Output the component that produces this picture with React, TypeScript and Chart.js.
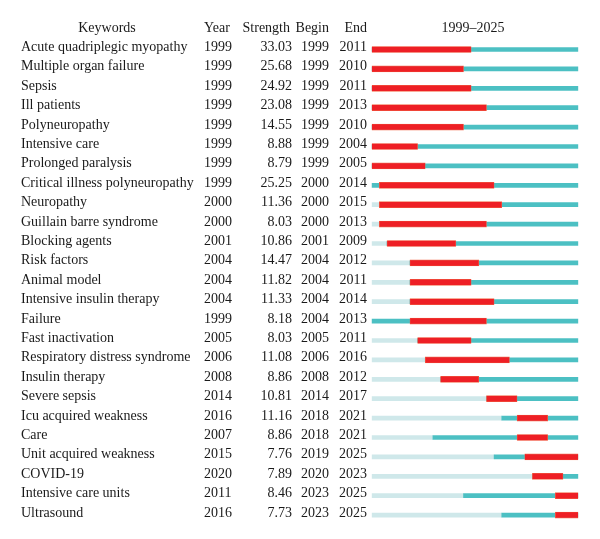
import React, { useEffect, useRef } from "react";
import { Chart, registerables } from "chart.js";

Chart.register(...registerables);

const keywords = [
  "Acute quadriplegic myopathy",
  "Multiple organ failure",
  "Sepsis",
  "Ill patients",
  "Polyneuropathy",
  "Intensive care",
  "Prolonged paralysis",
  "Critical illness polyneuropathy",
  "Neuropathy",
  "Guillain barre syndrome",
  "Blocking agents",
  "Risk factors",
  "Animal model",
  "Intensive insulin therapy",
  "Failure",
  "Fast inactivation",
  "Respiratory distress syndrome",
  "Insulin therapy",
  "Severe sepsis",
  "Icu acquired weakness",
  "Care",
  "Unit acquired weakness",
  "COVID-19",
  "Intensive care units",
  "Ultrasound",
];
const years = [1999, 1999, 1999, 1999, 1999, 1999, 1999, 1999, 2000, 2000, 2001, 2004, 2004, 2004, 1999, 2005, 2006, 2008, 2014, 2016, 2007, 2015, 2020, 2011, 2016];
const strengths = [33.03, 25.68, 24.92, 23.08, 14.55, 8.88, 8.79, 25.25, 11.36, 8.03, 10.86, 14.47, 11.82, 11.33, 8.18, 8.03, 11.08, 8.86, 10.81, 11.16, 8.86, 7.76, 7.89, 8.46, 7.73];
const begins = [1999, 1999, 1999, 1999, 1999, 1999, 1999, 2000, 2000, 2000, 2001, 2004, 2004, 2004, 2004, 2005, 2006, 2008, 2014, 2018, 2018, 2019, 2020, 2023, 2023];
const ends = [2011, 2010, 2011, 2013, 2010, 2004, 2005, 2014, 2015, 2013, 2009, 2012, 2011, 2014, 2013, 2011, 2016, 2012, 2017, 2021, 2021, 2025, 2023, 2025, 2025];
const startYear = 1999;
const endYear = 2025;

const FONT = '14px "Liberation Serif", "DejaVu Serif", serif';

const textPlugin = {
  id: "burstText",
  afterDraw(chart: any) {
    const ctx = chart.ctx as CanvasRenderingContext2D;
    const ys = chart.scales.y;
    ctx.save();
    ctx.font = FONT;
    ctx.fillStyle = "#1a1a1a";
    ctx.textBaseline = "alphabetic";
    const hy = 32;
    ctx.textAlign = "center";
    ctx.fillText("Keywords", 107, hy);
    ctx.fillText(`${startYear}\u2013${endYear}`, 473, hy);
    ctx.textAlign = "left";
    ctx.fillText("Year", 204, hy);
    ctx.textAlign = "right";
    ctx.fillText("Strength", 290, hy);
    ctx.fillText("Begin", 329, hy);
    ctx.fillText("End", 367, hy);
    keywords.forEach((k, i) => {
      const y = ys.getPixelForValue(i) + 1.5;
      ctx.textAlign = "left";
      ctx.fillText(k, 21, y);
      ctx.fillText(String(years[i]), 204, y);
      ctx.textAlign = "right";
      ctx.fillText(strengths[i].toFixed(2), 292, y);
      ctx.fillText(String(begins[i]), 329, y);
      ctx.fillText(String(ends[i]), 367, y);
    });
    ctx.restore();
  },
};

export default function App() {
  const ref = useRef<HTMLCanvasElement>(null);
  useEffect(() => {
    if (!ref.current) return;
    const chart = new Chart(ref.current, {
      type: "bar",
      data: {
        labels: keywords,
        datasets: [
          {
            label: "before",
            data: years.map((y) => [startYear, y]) as any,
            backgroundColor: "#cfe8ea",
            barThickness: 4,
            grouped: false,
            order: 3,
          } as any,
          {
            label: "active",
            data: years.map((y) => [y, endYear + 1]) as any,
            backgroundColor: "#4cc0c3",
            barThickness: 4,
            grouped: false,
            order: 2,
          } as any,
          {
            label: "burst",
            data: begins.map((b, i) => [b, ends[i] + 1]) as any,
            backgroundColor: "#ee1f25",
            borderColor: "#f26a4a",
            borderWidth: 0.6,
            borderSkipped: false,
            barThickness: 6,
            grouped: false,
            order: 1,
          } as any,
        ],
      },
      options: {
        indexAxis: "y",
        animation: false,
        responsive: false,
        maintainAspectRatio: false,
        layout: { padding: { left: 371.7, right: 21.7, top: 39.8, bottom: 14.2 } },
        plugins: { legend: { display: false }, tooltip: { enabled: false } },
        scales: {
          x: { type: "linear", min: startYear, max: endYear + 1, display: false },
          y: { type: "category", display: false, offset: true },
        },
      },
      plugins: [textPlugin],
    });
    return () => chart.destroy();
  }, []);
  return (
    <div style={{ position: "absolute", left: 0, top: 0, width: 600, height: 539, background: "#fff" }}>
      <canvas ref={ref} width={600} height={539} style={{ display: "block", width: 600, height: 539 }} />
    </div>
  );
}
